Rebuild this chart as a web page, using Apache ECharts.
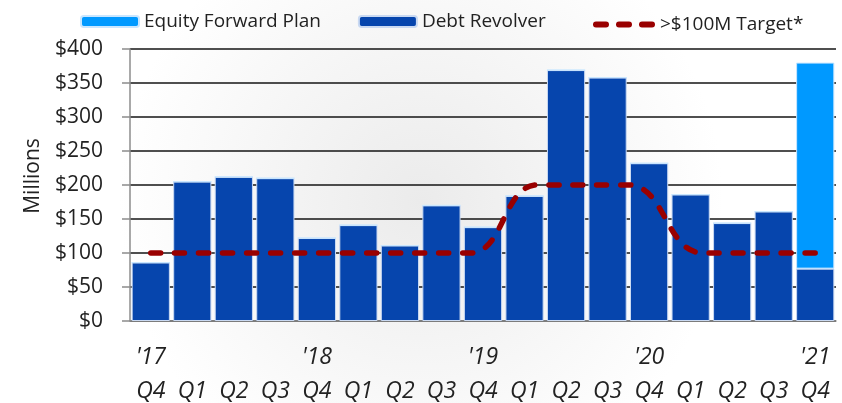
<!DOCTYPE html>
<html>
<head>
<meta charset="utf-8">
<script src="https://cdn.jsdelivr.net/npm/echarts@6/dist/echarts.min.js"></script>
<style>
html, body { margin: 0; padding: 0; }
#main { width: 842px; height: 403px; }
</style>
</head>
<body>
<div id="main"></div>
<script>
// quarter labels, year marker shown above each Q4
var quarters = ['Q4','Q1','Q2','Q3','Q4','Q1','Q2','Q3','Q4','Q1','Q2','Q3','Q4','Q1','Q2','Q3','Q4'];
var years = ["'17",'','','',"'18",'','','',"'19",'','','',"'20",'','','',"'21"];

// values in $ millions
var debtRevolver = [86, 205, 212, 210, 122, 141, 111, 170, 138, 184, 369, 358, 232, 186, 144, 161, 77];
var equityForward = [0, 0, 0, 0, 0, 0, 0, 0, 0, 0, 0, 0, 0, 0, 0, 0, 303];

// target curve: position in quarter index units and level in $M
var targetPos = [0, 7.7, 9.3, 11.5, 13.3, 16];
var targetVal = [100, 100, 200, 200, 100, 100];

var yTicks = [0, 50, 100, 150, 200, 250, 300, 350, 400];

var categories = quarters.map(function (q, i) { return years[i] + '\n' + q; });
var targetData = targetPos.map(function (p, i) { return [p, targetVal[i]]; });

var font = 'Open Sans';
var axisGray = '#8c8c8c';
var myChart = echarts.init(document.getElementById('main'));

myChart.setOption({
    backgroundColor: {
        type: 'radial', x: 0.5, y: 0.5, r: 0.75,
        colorStops: [
            { offset: 0, color: '#ebebeb' },
            { offset: 1, color: '#ffffff' }
        ]
    },
    animation: false,
    legend: [
        {
            left: 75,
            top: 7,
            itemWidth: 58,
            itemHeight: 11,
            itemGap: 37,
            textStyle: { fontFamily: font, fontSize: 19, color: '#222' },
            data: ['Equity Forward Plan', 'Debt Revolver']
        },
        {
            left: 588,
            top: 10,
            itemWidth: 62,
            itemHeight: 6,
            textStyle: { fontFamily: font, fontSize: 19, color: '#222' },
            data: [{
                name: '>$100M Target*',
                icon: 'path://M3,0h10a3,3 0 0 1 0,6h-10a3,3 0 0 1 0,-6z M26,0h10a3,3 0 0 1 0,6h-10a3,3 0 0 1 0,-6z M49,0h10a3,3 0 0 1 0,6h-10a3,3 0 0 1 0,-6z',
                itemStyle: { color: '#990000', borderWidth: 0 }
            }]
        }
    ],
    grid: {
        left: 130,
        right: 6,
        top: 49,
        bottom: 82,
        outerBoundsMode: 'none'
    },
    xAxis: [
        {
            type: 'category',
            data: categories,
            axisLine: { lineStyle: { color: axisGray, width: 1.5 } },
            axisTick: { length: 7, lineStyle: { color: axisGray, width: 1.5 } },
            axisLabel: {
                interval: 0,
                margin: 19,
                lineHeight: 34,
                fontFamily: font,
                fontStyle: 'italic',
                fontSize: 23,
                color: '#222'
            }
        },
        {
            type: 'value',
            min: -0.5,
            max: quarters.length - 0.5,
            show: false
        }
    ],
    yAxis: {
        type: 'value',
        min: yTicks[0],
        max: yTicks[yTicks.length - 1],
        interval: 50,
        name: 'Millions',
        nameLocation: 'middle',
        nameRotate: 90,
        nameGap: 86,
        nameTextStyle: { fontFamily: font, fontSize: 21, color: '#222', padding: [0, 0, 0, 18] },
        axisLine: { show: true, onZero: false, lineStyle: { color: axisGray, width: 1.5 } },
        axisTick: { show: true, length: 8, lineStyle: { color: axisGray, width: 1.5 } },
        axisLabel: {
            margin: 27,
            fontFamily: font,
            fontSize: 21,
            color: '#222',
            formatter: function (v) { return '$' + v; }
        },
        splitLine: { lineStyle: { color: '#141414', width: 1.6 } }
    },
    series: [
        {
            name: 'Debt Revolver',
            type: 'bar',
            stack: 'funding',
            barCategoryGap: '8%',
            data: debtRevolver,
            itemStyle: { color: '#0645ad', borderColor: '#c9d9f2', borderWidth: 1 }
        },
        {
            name: 'Equity Forward Plan',
            type: 'bar',
            stack: 'funding',
            data: equityForward,
            itemStyle: { color: '#0099ff', borderColor: '#c9e6ff', borderWidth: 1 }
        },
        {
            name: '>$100M Target*',
            type: 'line',
            xAxisIndex: 1,
            data: targetData,
            smooth: 0.5,
            smoothMonotone: 'x',
            symbol: 'none',
            z: 5,
            lineStyle: { color: '#990000', width: 5.5, type: [10, 14], cap: 'round' },
            itemStyle: { color: '#990000' }
        }
    ]
});
</script>
</body>
</html>
